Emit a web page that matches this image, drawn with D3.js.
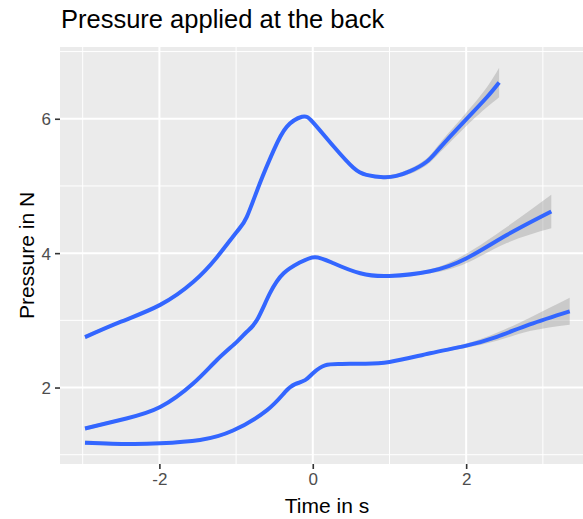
<!DOCTYPE html>
<html>
<head>
<meta charset="utf-8">
<script src="https://cdn.jsdelivr.net/npm/d3@7"></script>
<style>
    body { margin: 0; background: #fff; }
    text { font-family: "Liberation Sans", Arial, sans-serif; }
</style>
</head>
<body>
<div id="chart"></div>
<script>
'use strict';

// smoothed pressure curves (time in s, pressure in N, band half width)
var topTime = [-2.97, -2.5, -1.99, -1.56, -1.25, -0.99, -0.86, -0.69, -0.51, -0.34, -0.14, 0.0, 0.27, 0.53, 0.70, 0.92, 1.09, 1.27, 1.485, 1.66, 2.0, 2.27, 2.43];
var topPressure = [2.75, 2.98, 3.23, 3.57, 3.94, 4.32, 4.54, 5.04, 5.53, 5.88, 6.03, 5.95, 5.59, 5.27, 5.165, 5.13, 5.15, 5.22, 5.36, 5.57, 5.99, 6.32, 6.54];
var topSe = [0.03, 0.02, 0.02, 0.02, 0.02, 0.02, 0.02, 0.02, 0.02, 0.02, 0.02, 0.02, 0.02, 0.02, 0.02, 0.03, 0.03, 0.04, 0.05, 0.07, 0.1, 0.15, 0.22];

var midTime = [-2.97, -2.43, -1.99, -1.56, -1.25, -0.99, -0.86, -0.73, -0.56, -0.38, -0.17, 0.03, 0.27, 0.62, 1.0, 1.53, 2.0, 2.53, 3.11];
var midPressure = [1.39, 1.54, 1.71, 2.06, 2.41, 2.68, 2.83, 3.0, 3.40, 3.70, 3.86, 3.94, 3.85, 3.70, 3.66, 3.73, 3.92, 4.27, 4.62];
var midSe = [0.03, 0.02, 0.02, 0.02, 0.02, 0.02, 0.02, 0.02, 0.02, 0.02, 0.02, 0.02, 0.02, 0.02, 0.02, 0.03, 0.07, 0.12, 0.25];

var lowTime = [-2.97, -2.4, -1.99, -1.47, -1.04, -0.60, -0.36, -0.23, -0.10, 0.01, 0.16, 0.36, 0.66, 1.0, 1.53, 1.99, 2.40, 2.83, 3.35];
var lowPressure = [1.18, 1.16, 1.17, 1.22, 1.36, 1.66, 1.935, 2.05, 2.11, 2.22, 2.33, 2.35, 2.355, 2.38, 2.51, 2.62, 2.755, 2.94, 3.135];
var lowSe = [0.03, 0.02, 0.02, 0.02, 0.02, 0.02, 0.02, 0.02, 0.02, 0.02, 0.02, 0.02, 0.02, 0.02, 0.02, 0.03, 0.06, 0.1, 0.2];

var xTicks = [-2, 0, 2];
var xMinor = [-3, -1, 1, 3];
var yTicks = [2, 4, 6];
var yMinor = [1, 3, 5, 7];
var xLimits = [-3.296, 3.667];
var yLimits = [0.862, 7.068];

var title = "Pressure applied at the back";
var xTitle = "Time in s";
var yTitle = "Pressure in N";

var outerWidth = 583;
var outerHeight = 519;
var margin = { left: 60, top: 47, right: -11, bottom: 55 };
var innerWidth = outerWidth - margin.left - margin.right;
var innerHeight = outerHeight - margin.top - margin.bottom;

var svg = d3.select("#chart").append("svg")
    .attr("width", outerWidth)
    .attr("height", outerHeight);

var xScale = d3.scaleLinear().domain(xLimits).range([0, innerWidth]);
var yScale = d3.scaleLinear().domain(yLimits).range([innerHeight, 0]);

var g = svg.append("g")
    .attr("transform", "translate(" + margin.left + "," + margin.top + ")");

// panel + grid
g.append("rect")
    .attr("width", innerWidth)
    .attr("height", innerHeight)
    .attr("fill", "#EBEBEB");

g.selectAll(".xminor").data(xMinor).enter().append("line")
    .attr("x1", xScale).attr("x2", xScale)
    .attr("y1", 0).attr("y2", innerHeight)
    .attr("stroke", "#fff").attr("stroke-width", 1);
g.selectAll(".yminor").data(yMinor).enter().append("line")
    .attr("y1", yScale).attr("y2", yScale)
    .attr("x1", 0).attr("x2", innerWidth)
    .attr("stroke", "#fff").attr("stroke-width", 1);
g.selectAll(".xmajor").data(xTicks).enter().append("line")
    .attr("x1", xScale).attr("x2", xScale)
    .attr("y1", 0).attr("y2", innerHeight)
    .attr("stroke", "#fff").attr("stroke-width", 2);
g.selectAll(".ymajor").data(yTicks).enter().append("line")
    .attr("y1", yScale).attr("y2", yScale)
    .attr("x1", 0).attr("x2", innerWidth)
    .attr("stroke", "#fff").attr("stroke-width", 2);

// axes (plain hyphen for negatives, like R)
var fmt = function(d) { return String(d); };
var xAxis = d3.axisBottom(xScale).tickValues(xTicks).tickSize(5).tickPadding(4).tickFormat(fmt);
var yAxis = d3.axisLeft(yScale).tickValues(yTicks).tickSize(5).tickPadding(4).tickFormat(fmt);

var gx = g.append("g")
    .attr("transform", "translate(0," + innerHeight + ")")
    .call(xAxis);
var gy = g.append("g").call(yAxis);

[gx, gy].forEach(function(a) {
    a.select(".domain").remove();
    a.selectAll(".tick line").attr("stroke", "#333").attr("stroke-width", 1.6);
    a.selectAll(".tick text")
        .attr("fill", "#4D4D4D")
        .style("font-size", "17px")
        .style("font-family", "'Liberation Sans', Arial, sans-serif");
});
gx.selectAll(".tick text").attr("dy", "0.71em");
gy.selectAll(".tick text").attr("dy", "0.36em");

// smooth curves with confidence bands
var series = [
    { time: topTime, pressure: topPressure, se: topSe },
    { time: midTime, pressure: midPressure, se: midSe },
    { time: lowTime, pressure: lowPressure, se: lowSe }
];

var curve = d3.curveNatural;

var area = d3.area()
    .curve(curve)
    .x(function(d) { return xScale(d.t); })
    .y0(function(d) { return yScale(d.p - d.s); })
    .y1(function(d) { return yScale(d.p + d.s); });

var line = d3.line()
    .curve(curve)
    .x(function(d) { return xScale(d.t); })
    .y(function(d) { return yScale(d.p); });

series.forEach(function(s) {
    var pts = s.time.map(function(t, i) {
        return { t: t, p: s.pressure[i], s: s.se[i] };
    });
    g.append("path")
        .attr("d", area(pts))
        .attr("fill", "#999999")
        .attr("fill-opacity", 0.4);
    g.append("path")
        .attr("d", line(pts))
        .attr("fill", "none")
        .attr("stroke", "#3366FF")
        .attr("stroke-width", 4);
});

// titles
svg.append("text")
    .attr("x", 61)
    .attr("y", 28)
    .style("font-size", "25.5px")
    .attr("fill", "#000")
    .text(title);

svg.append("text")
    .attr("x", margin.left + innerWidth / 2)
    .attr("y", 513)
    .attr("text-anchor", "middle")
    .style("font-size", "21px")
    .attr("fill", "#000")
    .text(xTitle);

svg.append("text")
    .attr("transform", "translate(34," + (margin.top + innerHeight / 2) + ") rotate(-90)")
    .attr("text-anchor", "middle")
    .style("font-size", "21px")
    .attr("fill", "#000")
    .text(yTitle);
</script>
</body>
</html>
